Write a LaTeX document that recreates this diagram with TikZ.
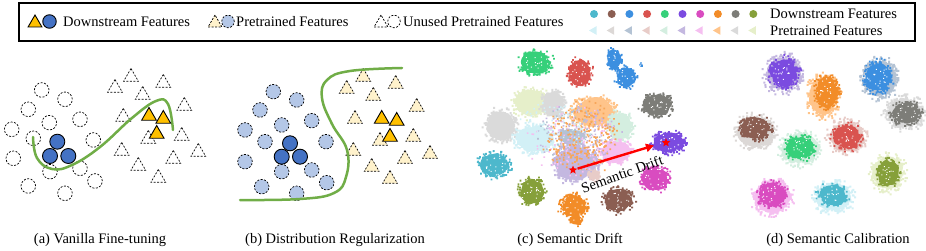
\documentclass[tikz,border=0pt]{standalone}
\usepackage{fontspec}
\setmainfont{Liberation Serif}
\usetikzlibrary{shapes.geometric,arrows.meta}
\definecolor{cC}{HTML}{4DB8CC}
\definecolor{cBr}{HTML}{8B5E52}
\definecolor{cB}{HTML}{3C8FE0}
\definecolor{cR}{HTML}{D9534F}
\definecolor{cG}{HTML}{36D07A}
\definecolor{cP}{HTML}{7B4BE0}
\definecolor{cM}{HTML}{D94CC0}
\definecolor{cO}{HTML}{F28C28}
\definecolor{cGy}{HTML}{7D7D78}
\definecolor{cOl}{HTML}{86A03A}
\definecolor{pC}{HTML}{D2F0F6}
\definecolor{pBr}{HTML}{DCD8D6}
\definecolor{pB}{HTML}{B4C3D4}
\definecolor{pR}{HTML}{E8CCC8}
\definecolor{pG}{HTML}{D4EEE0}
\definecolor{pP}{HTML}{C4B8E0}
\definecolor{pM}{HTML}{F5BFF0}
\definecolor{pO}{HTML}{FFC48A}
\definecolor{pGy}{HTML}{DADADA}
\definecolor{pOl}{HTML}{E6EFCA}
\definecolor{drO}{HTML}{F7A65A}
\definecolor{offblue}{HTML}{4472C4}
\definecolor{offlblue}{HTML}{B4C7E7}
\definecolor{offgold}{HTML}{FFC000}
\definecolor{offlgold}{HTML}{FFF2CC}
\definecolor{offgreen}{HTML}{70AD47}
\newcommand\lf{\fontsize{14.5}{16}\selectfont}
% dots: color cx cy rx ry density size
\newcommand\blob[7]{%
 \pgfmathtruncatemacro\blobn{#6*#4*#5}%
 \fill[#1] \foreach \k [evaluate=\k as \myr using {sqrt(rnd)*(0.8+0.35*rnd)}, evaluate=\k as \myt using {rnd*360}] in {1,...,\blobn} {({#2+#4*\myr*cos(\myt)-#7/2},{#3+#5*\myr*sin(\myt)-#7/2}) rectangle ++(#7,#7)};%
}
% solid irregular body: color cx cy rx ry
\newcommand\sblob[5]{%
 \fill[#1] plot[smooth cycle, domain=0:340, samples=18] ({#2+#4*(0.74+0.16*rnd)*cos(\x)},{#3+#5*(0.74+0.16*rnd)*sin(\x)});%
}
% cluster with fuzzy border and white specks
\newcommand\clus[5]{%
 \sblob{#1}{#2}{#3}{#4}{#5}%
 \blob{#1}{#2}{#3}{#4}{#5}{0.9}{1.8}%
 \pgfmathsetmacro\srx{0.72*#4}\pgfmathsetmacro\sry{0.72*#5}%
 \blob{white}{#2}{#3}{\srx}{\sry}{0.16}{1}%
}
% pale halo without specks
\newcommand\halo[5]{%
 \sblob{#1}{#2}{#3}{#4}{#5}%
 \blob{#1}{#2}{#3}{#4}{#5}{0.9}{2}%
}
\tikzset{
 dcirc/.style={circle, draw=black, dash pattern=on 2pt off 1.5pt, line width=0.7pt, minimum size=14.6pt, inner sep=0pt},
 fcirc/.style={circle, draw=black, line width=0.9pt, fill=offblue, minimum size=15pt, inner sep=0pt},
 dtri/.style={regular polygon, regular polygon sides=3, draw=black, dash pattern=on 2pt off 1.5pt, line width=0.7pt, minimum size=17pt, inner sep=0pt},
 ftri/.style={regular polygon, regular polygon sides=3, draw=black, line width=0.9pt, fill=offgold, minimum size=17pt, inner sep=0pt},
 ltri/.style={regular polygon, regular polygon sides=3, shape border rotate=90, minimum size=10pt, inner sep=0pt},
 txt/.style={font=\lf, inner sep=0pt},
 bound/.style={draw=offgreen, line width=2.5pt, line cap=round},
 redstar/.style={star, star points=5, star point ratio=2.3, fill=red, minimum size=9pt, inner sep=0pt},
}
\begin{document}
\begin{tikzpicture}[x=1pt,y=-1pt]
\pgfmathsetseed{4242}
\useasboundingbox (0,0) rectangle (926,251);
% ---------------- legend
\draw[line width=1.1pt] (19,3) rectangle (915,41);
\node[ftri, minimum size=16pt] (lg1t) at (35,23) {};
\node[fcirc, minimum size=13.5pt] (lg1c) at (49.5,21.5) {};
\node[txt, anchor=west] (lg1) at (63,22) {Downstream Features};
\node[dtri, fill=offlgold, minimum size=16pt] (lg2t) at (215,23) {};
\node[dcirc, fill=offlblue, minimum size=12.5pt] (lg2c) at (228,21.5) {};
\node[txt, anchor=west] (lg2) at (236,22) {Pretrained Features};
\node[dtri, minimum size=16pt] (lg3t) at (381,23) {};
\node[dcirc, minimum size=12.5pt] (lg3c) at (394,21.5) {};
\node[txt, anchor=west] (lg3) at (403,22) {Unused Pretrained Features};
\foreach \c/\p [count=\i from 0] in {cC/pC,cBr/pBr,cB/pB,cR/pR,cG/pG,cP/pP,cM/pM,cO/pO,cGy/pGy,cOl/pOl}{
  \node[circle, fill=\c, minimum size=8pt, inner sep=0pt] (ld\i) at (594+17.7*\i,14) {};
  \node[ltri, fill=\p] (lt\i) at (594+17.7*\i,30.5) {};
}
\node[txt, anchor=west] (lgr1) at (770,13.5) {Downstream Features};
\node[txt, anchor=west] (lgr2) at (770,31) {Pretrained Features};
% ---------------- panel (a)
\foreach \x/\y [count=\i] in {41.7/90,65/99.3,28.3/109.3,49.3/122.7,80/119.3,11.7/129.3,33.3/138.3,93.3/140,13.3/158.3,50/171.7,80/168.3,95/181,28.3/186,65/193.3}
  \node[dcirc] (ac\i) at (\x,\y) {};
\foreach \x/\y [count=\i] in {131/77,115/88,163.3/83,142.7/95,184.3/106,123.3/117,181.7/136,148.3/139,121.7/151,198.3/152,173.3/159,138.3/166,158.3/178}
  \node[dtri] (at\i) at (\x,\y) {};
\draw[bound] plot[smooth, tension=0.7] coordinates {(33,137) (37,158) (52,169) (72,165) (100,147) (132,118) (156,101) (168,104) (173,130)};
\foreach \x/\y [count=\i] in {57.3/141.7,50/156,68.3/156}
  \node[fcirc] (ab\i) at (\x,\y) {};
\foreach \x/\y [count=\i] in {149/116,163.3/119,156.7/134}
  \node[ftri] (ay\i) at (\x,\y) {};
\node[txt] (capa) at (100,240) {(a) Vanilla Fine-tuning};
% ---------------- panel (b)
\foreach \x/\y [count=\i] in {273.3/91.7,296.7/100,260/110,281.7/125,311.7/120.7,245/130,265/141.7,326/141.7,245/161.7,281.7/171.7,311.7/170,326.7/182.7,261.7/186.7,296.7/193.3}
  \node[dcirc, fill=offlblue] (bc\i) at (\x,\y) {};
\foreach \x/\y [count=\i] in {363.3/77,346.7/89,395.7/84,373.3/96,416.7/107,355/119,413.3/137,380/141,353.3/151,430/154,405/159,371.7/167,390/179}
  \node[dtri, fill=offlgold] (bt\i) at (\x,\y) {};
\draw[bound] plot[smooth, tension=0.7] coordinates {(402,68) (350,71) (327,80) (322,98) (332,124) (347,150) (346,177) (334,193) (300,199) (240,200)};
\foreach \x/\y [count=\i] in {290/143.3,281.7/156.7,300/156.7}
  \node[fcirc] (bb\i) at (\x,\y) {};
\foreach \x/\y [count=\i] in {381.7/119,396.7/121,390/137}
  \node[ftri] (by\i) at (\x,\y) {};
\node[txt] (capb) at (335,240) {(b) Distribution Regularization};
% ---------------- panel (c)
\halo{pGy}{501}{126}{17}{17}
\halo{pOl}{531}{103}{19}{16}
\halo{pGy}{553}{104}{13}{15}
\halo{pC}{535}{139}{22}{16}
\halo{pO}{594}{112}{23}{17}
\halo{pG}{620}{126}{14}{16}
\halo{pB}{572}{137}{16}{9}
\halo{pP}{575}{163}{24}{20}
\halo{pM}{616}{152}{17}{13}
\halo{pR}{594}{175}{7}{6}
\blob{pP}{580}{138}{40}{32}{0.12}{1.6}
\blob{pM}{575}{140}{45}{35}{0.08}{1.6}
\blob{pC}{555}{128}{40}{28}{0.08}{1.6}
\blob{pB}{570}{135}{35}{28}{0.08}{1.6}
\blob{drO}{582}{138}{36}{34}{0.2}{1.7}
\clus{cG}{535.7}{62.7}{17}{13}
\clus{cR}{580}{73}{13}{15}
\clus{cB}{614}{59}{8}{12}
\clus{cB}{626}{77}{11}{12}
\clus{cB}{641}{65}{2}{2}
\clus{cGy}{656.7}{105}{17}{13}
\clus{cP}{668.3}{142.7}{19}{12}
\clus{cM}{655}{178.3}{16}{14}
\clus{cBr}{618.3}{200}{16}{14}
\clus{cO}{574}{206}{15}{13}
\clus{cO}{576}{220}{7}{6}
\clus{cOl}{531.7}{191.7}{14}{15}
\clus{cC}{494.3}{165}{17}{14}
\node[redstar] (s1) at (573,170) {};
\node[redstar] (s2) at (666,142.7) {};
\coordinate (dend) at (654,145.5);
\draw[red, line width=2.4pt, -{Triangle[length=8pt,width=8pt]}] (s1) -- (dend);
\node[txt, rotate=20] (sd) at (622,174) {Semantic Drift};
\node[txt] (capc) at (570,240) {(c) Semantic Drift};
% ---------------- panel (d)
\halo{pP}{784}{74}{20}{20}
\halo{pO}{823}{96}{17}{23}
\halo{pB}{880}{79}{19}{21}
\halo{pGy}{905}{113}{21}{17}
\halo{pBr}{755}{132}{21}{18}
\halo{pR}{847}{137}{20}{18}
\halo{pG}{800}{149}{21}{18}
\halo{pOl}{888}{173}{18}{19}
\halo{pM}{772}{197}{21}{19}
\halo{pC}{833}{197}{21}{17}
\clus{cP}{784}{73}{16}{16}
\clus{cO}{827}{92}{13}{18}
\clus{cB}{878}{77}{15}{17}
\clus{cGy}{906}{113}{16}{13}
\clus{cBr}{755}{128}{17}{13}
\clus{cR}{847}{137}{16}{14}
\clus{cG}{800}{148}{16}{13}
\clus{cOl}{888}{173}{13}{15}
\clus{cM}{772}{195}{16}{14}
\clus{cC}{833}{195}{16}{12}
\node[txt] (capd) at (838,240) {(d) Semantic Calibration};
\end{tikzpicture}
\end{document}
